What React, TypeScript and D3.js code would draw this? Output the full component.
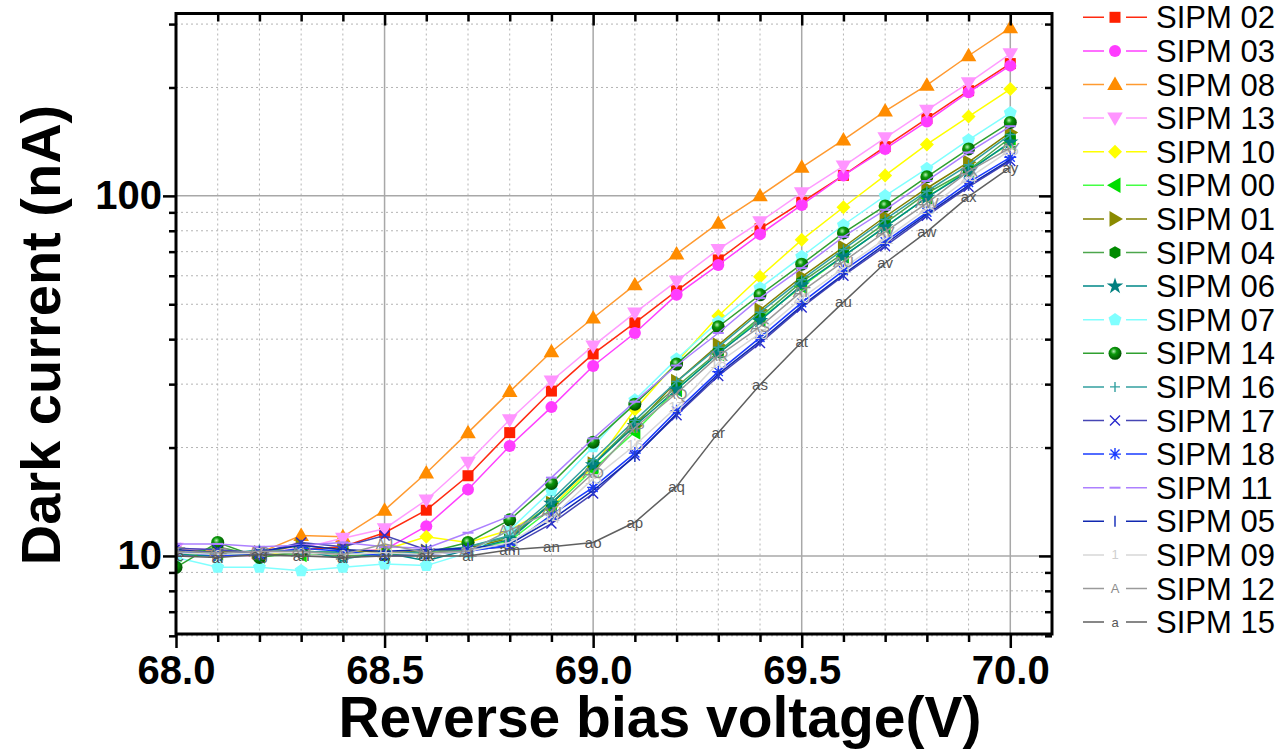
import { useEffect, useRef } from "react"
import * as d3 from "d3"

// Reverse bias voltage (V)
const voltage = [68.0, 68.1, 68.2, 68.3, 68.4, 68.5, 68.6, 68.7, 68.8, 68.9, 69.0, 69.1, 69.2, 69.3, 69.4, 69.5, 69.6, 69.7, 69.8, 69.9, 70.0]

// Dark current (nA) per SiPM
const sipm02 = [10.2, 10.3, 10.1, 10.4, 10.6, 11.6, 13.4, 16.7, 22.0, 28.7, 36.4, 44.4, 54.5, 66.4, 81, 96, 114, 137, 164, 196, 233]
const sipm03 = [10.0, 10.1, 10.0, 10.2, 10.3, 10.4, 12.1, 15.3, 20.2, 25.9, 33.7, 41.6, 53.1, 64.3, 78.3, 94.4, 114, 135, 161, 194, 230]
const sipm08 = [10.4, 10.3, 10.2, 11.4, 11.3, 13.4, 17.0, 22.0, 28.6, 36.9, 45.8, 56.6, 69, 84, 100, 120, 143, 172, 203, 245, 293]
const sipm13 = [10.5, 10.4, 10.2, 10.5, 11.2, 11.9, 14.3, 18.2, 23.9, 30.6, 38.3, 47.3, 58, 71, 84.7, 102, 121, 145, 173, 206, 248]
const sipm10 = [10.1, 10.2, 10.1, 10.3, 10.2, 10.4, 11.3, 10.9, 11.8, 13.7, 17.7, 25.5, 34.5, 46.4, 59.6, 75.5, 93, 114, 139, 166, 198]
const sipm00 = [10.1, 10.2, 10.0, 10.1, 10.3, 10.0, 10.2, 10.4, 11.0, 13.5, 17.4, 22.1, 29.0, 36.5, 45.5, 56, 68, 82, 99, 118, 140]
const sipm01 = [10.2, 10.3, 10.2, 10.7, 10.4, 10.2, 10.3, 10.5, 11.2, 14.0, 18.0, 23.0, 30.5, 38.5, 48.2, 59.6, 72, 87.5, 105, 124, 150]
const sipm04 = [10.0, 10.6, 10.0, 10.2, 10.0, 10.1, 10.1, 10.6, 11.3, 14.0, 18.0, 23.4, 29.5, 36.9, 46, 57.7, 69.3, 84, 101.7, 118, 145]
const sipm06 = [10.1, 10.0, 10.2, 10.4, 9.8, 10.2, 9.7, 10.4, 11.1, 14.0, 17.9, 23.0, 29.0, 36.5, 45, 56.5, 68, 82, 99, 117, 141]
const sipm07 = [9.9, 9.3, 9.3, 9.1, 9.3, 9.5, 9.4, 10.2, 11.8, 15.2, 20.1, 27.1, 35.2, 44.7, 55.5, 67.8, 83, 100, 119, 143, 170]
const sipm14 = [9.3, 10.9, 9.9, 10.3, 10.2, 10.1, 10.2, 10.9, 12.6, 15.9, 20.7, 26.4, 34.1, 43.3, 53.1, 64.6, 78.9, 93.8, 113, 135, 160]
const sipm16 = [10.2, 10.1, 10.4, 10.3, 10.2, 10.1, 10.3, 10.6, 11.4, 14.3, 18.5, 23.8, 30.5, 38, 47.5, 58.5, 71, 86, 103, 122, 148]
const sipm17 = [10.5, 10.4, 10.2, 10.9, 10.6, 11.4, 10.4, 10.4, 10.6, 12.3, 14.9, 19.0, 24.6, 31.6, 39, 49, 60, 72.5, 88, 106, 125]
const sipm18 = [10.3, 10.0, 10.1, 10.5, 10.3, 10.0, 10.1, 10.3, 10.7, 13.0, 15.5, 19.3, 25.3, 32.5, 40.4, 50.5, 62, 74.6, 90, 109, 128]
const sipm11 = [10.8, 10.8, 10.6, 10.7, 10.9, 10.6, 10.5, 11.6, 12.9, 16.5, 21.2, 26.8, 33.8, 41.6, 52, 63, 77, 91.5, 110, 132, 156]
const sipm05 = [10.4, 10.2, 10.3, 10.7, 10.4, 10.3, 10.4, 10.5, 10.8, 12.6, 15.2, 18.9, 24.8, 32.0, 39.5, 49.5, 60.5, 73.5, 89, 107, 126]
const sipm09 = [10.2, 10.1, 10.2, 10.2, 10.1, 10.2, 10.1, 10.3, 10.9, 12.8, 16.4, 20.3, 25.9, 34.4, 41.5, 52, 63, 76, 92, 112, 134]
const sipm12 = [10.3, 10.2, 10.3, 10.3, 10.1, 10.8, 10.2, 10.3, 11.8, 13.3, 17.0, 22.7, 28.3, 35.9, 43.3, 54.3, 65.7, 79.4, 95.5, 117, 136]
const sipm15 = [10.0, 9.9, 10.1, 10.0, 9.9, 10.0, 10.0, 10.0, 10.4, 10.6, 10.9, 12.4, 15.6, 22.0, 29.9, 39.3, 50.7, 65.1, 79.4, 99.5, 120]

const series = [
  { name: "SIPM 02", values: sipm02 },
  { name: "SIPM 03", values: sipm03 },
  { name: "SIPM 08", values: sipm08 },
  { name: "SIPM 13", values: sipm13 },
  { name: "SIPM 10", values: sipm10 },
  { name: "SIPM 00", values: sipm00 },
  { name: "SIPM 01", values: sipm01 },
  { name: "SIPM 04", values: sipm04 },
  { name: "SIPM 06", values: sipm06 },
  { name: "SIPM 07", values: sipm07 },
  { name: "SIPM 14", values: sipm14 },
  { name: "SIPM 16", values: sipm16 },
  { name: "SIPM 17", values: sipm17 },
  { name: "SIPM 18", values: sipm18 },
  { name: "SIPM 11", values: sipm11 },
  { name: "SIPM 05", values: sipm05 },
  { name: "SIPM 09", values: sipm09 },
  { name: "SIPM 12", values: sipm12 },
  { name: "SIPM 15", values: sipm15 },
]

// look of each curve (line colour, marker colour, marker kind)
const looks = {
  "SIPM 02": { line: "#ff2a10", fill: "#ff2000", shape: "square" },
  "SIPM 03": { line: "#ff40ff", fill: "#ff3cff", shape: "circle" },
  "SIPM 08": { line: "#ff9a30", fill: "#ff8c00", shape: "triUp" },
  "SIPM 13": { line: "#ff9cff", fill: "#ff94ff", shape: "triDown" },
  "SIPM 10": { line: "#ffff00", fill: "#ffff00", shape: "diamond" },
  "SIPM 00": { line: "#44ff44", fill: "#00dd00", shape: "triLeft" },
  "SIPM 01": { line: "#808000", fill: "#8a8a00", shape: "triRight" },
  "SIPM 04": { line: "#4da64d", fill: "#008a00", shape: "hexagon" },
  "SIPM 06": { line: "#008888", fill: "#008080", shape: "star" },
  "SIPM 07": { line: "#80ffff", fill: "#80ffff", shape: "pentagon" },
  "SIPM 14": { line: "#30a030", fill: "#008000", shape: "sphere" },
  "SIPM 16": { line: "#33a0a0", fill: "#33a0a0", shape: "plus" },
  "SIPM 17": { line: "#4646b4", fill: "#2a2acc", shape: "cross" },
  "SIPM 18": { line: "#1a3cff", fill: "#1a3cff", shape: "asterisk" },
  "SIPM 11": { line: "#ad80ff", fill: "#ad80ff", shape: "dash" },
  "SIPM 05": { line: "#1028b0", fill: "#2a40c0", shape: "bar" },
  "SIPM 09": { line: "#d8d8d8", fill: "#cfcfcf", shape: "num" },
  "SIPM 12": { line: "#9a9a9a", fill: "#8c8c8c", shape: "upper" },
  "SIPM 15": { line: "#606060", fill: "#555555", shape: "lower" },
}

const xMajor = [68.0, 68.5, 69.0, 69.5, 70.0]
const yMajor = [10, 100]
const yMinor = [6, 7, 8, 9, 20, 30, 40, 50, 60, 70, 80, 90, 200, 300]
const letters = "abcdefghijklmnopqrstuvwxyz"

const FONT = "'Liberation Sans', Arial, Helvetica, sans-serif"

function polygon(n, r, rot) {
  const pts = d3.range(n).map(i => {
    const a = rot + (i * 2 * Math.PI) / n
    return [r * Math.cos(a), r * Math.sin(a)]
  })
  return "M" + pts.map(p => p.join(",")).join("L") + "Z"
}

function drawMarker(g, shape, color, i, legend) {
  const tri = d3.symbol(d3.symbolTriangle, 105)()
  if (shape === "square") g.append("rect").attr("x", -5.5).attr("y", -5.5).attr("width", 11).attr("height", 11).attr("fill", color)
  else if (shape === "circle") g.append("circle").attr("r", 6).attr("fill", color)
  else if (shape === "triUp") g.append("path").attr("d", tri).attr("transform", "translate(0,1)").attr("fill", color)
  else if (shape === "triDown") g.append("path").attr("d", tri).attr("transform", "rotate(180) translate(0,1)").attr("fill", color)
  else if (shape === "triLeft") g.append("path").attr("d", tri).attr("transform", "rotate(-90) translate(0,1)").attr("fill", color)
  else if (shape === "triRight") g.append("path").attr("d", tri).attr("transform", "rotate(90) translate(0,1)").attr("fill", color)
  else if (shape === "diamond") g.append("path").attr("d", "M0,-7L7,0L0,7L-7,0Z").attr("fill", color)
  else if (shape === "hexagon") g.append("path").attr("d", polygon(6, 6.3, Math.PI / 6)).attr("fill", color)
  else if (shape === "pentagon") g.append("path").attr("d", polygon(5, 6.8, -Math.PI / 2)).attr("fill", color)
  else if (shape === "star") g.append("path").attr("d", d3.symbol(d3.symbolStar, 85)()).attr("fill", color)
  else if (shape === "sphere") g.append("circle").attr("r", 6.5).attr("fill", "url(#sphere)")
  else if (shape === "plus") g.append("path").attr("d", "M-5,0H5M0,-5V5").attr("stroke", color).attr("stroke-width", 1.4)
  else if (shape === "cross") g.append("path").attr("d", "M-5,-5L5,5M-5,5L5,-5").attr("stroke", color).attr("stroke-width", 1.4)
  else if (shape === "asterisk") g.append("path").attr("d", "M-6,0H6M0,-6V6M-4.5,-4.5L4.5,4.5M-4.5,4.5L4.5,-4.5").attr("stroke", color).attr("stroke-width", 1.4)
  else if (shape === "dash") g.append("path").attr("d", "M-5.5,0H5.5").attr("stroke", color).attr("stroke-width", 2)
  else if (shape === "bar") g.append("path").attr("d", "M0,-5.5V5.5").attr("stroke", color).attr("stroke-width", 1.6)
  else {
    let label = ""
    if (shape === "num") label = legend ? "1" : String(i + 5)
    if (shape === "upper") label = legend ? "A" : "A" + letters[i + 4].toUpperCase()
    if (shape === "lower") label = legend ? "a" : "a" + letters[i + 4]
    g.append("text")
      .attr("text-anchor", "middle")
      .attr("dy", "0.35em")
      .attr("font-family", FONT)
      .attr("font-size", legend ? 13 : 15)
      .attr("fill", color)
      .text(label)
  }
}

function App() {
  const ref = useRef(null)

  useEffect(() => {
    const svg = d3.select(ref.current)
    svg.selectAll("*").remove()

    const left = 176, right = 1052, top = 13.5, bottom = 634
    const x = d3.scaleLinear().domain([68.0, 70.1]).range([left, right])
    const y = d3.scaleLog().domain([6.07, 321]).range([bottom, top])

    const defs = svg.append("defs")
    const grad = defs.append("radialGradient").attr("id", "sphere").attr("cx", "40%").attr("cy", "35%").attr("r", "65%")
    grad.append("stop").attr("offset", "0%").attr("stop-color", "#b8f0b8")
    grad.append("stop").attr("offset", "35%").attr("stop-color", "#0c9a0c")
    grad.append("stop").attr("offset", "100%").attr("stop-color", "#005000")
    defs.append("clipPath").attr("id", "plotClip").append("rect")
      .attr("x", left).attr("y", top).attr("width", right - left).attr("height", bottom - top)

    // Grid
    const grid = svg.append("g")
    const xGrid = d3.range(1, 21).map(i => 68 + i / 10)
    grid.selectAll(".vx")
      .data(xGrid)
      .enter()
      .append("line")
      .attr("x1", d => x(d)).attr("x2", d => x(d))
      .attr("y1", top).attr("y2", bottom)
      .attr("stroke", (d, i) => ((i + 1) % 5 === 0 ? "#a8a8a8" : "#b4b4b4"))
      .attr("stroke-width", (d, i) => ((i + 1) % 5 === 0 ? 1.5 : 1))
      .attr("stroke-dasharray", (d, i) => ((i + 1) % 5 === 0 ? null : "2,3"))
    grid.selectAll(".hy")
      .data(yMinor)
      .enter()
      .append("line")
      .attr("x1", left).attr("x2", right)
      .attr("y1", d => y(d)).attr("y2", d => y(d))
      .attr("stroke", "#b4b4b4")
      .attr("stroke-dasharray", "2,3")
    grid.selectAll(".hyM")
      .data(yMajor)
      .enter()
      .append("line")
      .attr("x1", left).attr("x2", right)
      .attr("y1", d => y(d)).attr("y2", d => y(d))
      .attr("stroke", "#a8a8a8")
      .attr("stroke-width", 1.5)

    // Curves
    const plot = svg.append("g").attr("clip-path", "url(#plotClip)")
    const line = d3.line().x((d, i) => x(voltage[i])).y(d => y(d))
    for (const s of series) {
      const look = looks[s.name]
      plot.append("path")
        .attr("d", line(s.values))
        .attr("fill", "none")
        .attr("stroke", look.line)
        .attr("stroke-width", 1.5)
      s.values.forEach((v, i) => {
        const g = plot.append("g").attr("transform", `translate(${x(voltage[i])},${y(v)})`)
        drawMarker(g, look.shape, look.fill, i, false)
      })
    }

    // Frame
    svg.append("rect")
      .attr("x", left).attr("y", top)
      .attr("width", right - left).attr("height", bottom - top)
      .attr("fill", "none").attr("stroke", "#000").attr("stroke-width", 3)

    const styleAxis = (g) => {
      g.select(".domain").remove()
      g.selectAll("line").attr("stroke", "#000").attr("stroke-width", 2.5)
      g.selectAll("text").attr("font-family", FONT).attr("font-weight", "bold").attr("font-size", 40).attr("fill", "#000")
    }

    const xMinorTicks = xGrid.filter((d, i) => (i + 1) % 5 !== 0)

    // Bottom axis
    svg.append("g").attr("transform", `translate(0,${bottom})`)
      .call(d3.axisBottom(x).tickValues(xMajor).tickFormat(d3.format(".1f")).tickSize(14).tickPadding(8))
      .call(styleAxis)
    svg.append("g").attr("transform", `translate(0,${bottom})`)
      .call(d3.axisBottom(x).tickValues(xMinorTicks).tickFormat(() => "").tickSize(8))
      .call(styleAxis)
    // Top axis (inward)
    svg.append("g").attr("transform", `translate(0,${top})`)
      .call(d3.axisBottom(x).tickValues(xMajor.slice(1)).tickFormat(() => "").tickSize(12))
      .call(styleAxis)
    svg.append("g").attr("transform", `translate(0,${top})`)
      .call(d3.axisBottom(x).tickValues(xMinorTicks).tickFormat(() => "").tickSize(8))
      .call(styleAxis)

    // Left axis
    svg.append("g").attr("transform", `translate(${left},0)`)
      .call(d3.axisLeft(y).tickValues(yMajor).tickFormat(d3.format("d")).tickSize(13).tickPadding(1))
      .call(styleAxis)
    svg.append("g").attr("transform", `translate(${left},0)`)
      .call(d3.axisLeft(y).tickValues(yMinor).tickFormat(() => "").tickSize(7))
      .call(styleAxis)
    // Right axis (inward)
    svg.append("g").attr("transform", `translate(${right},0)`)
      .call(d3.axisLeft(y).tickValues(yMajor).tickFormat(() => "").tickSize(13))
      .call(styleAxis)
    svg.append("g").attr("transform", `translate(${right},0)`)
      .call(d3.axisLeft(y).tickValues(yMinor).tickFormat(() => "").tickSize(7))
      .call(styleAxis)

    // Axis titles
    svg.append("text")
      .attr("x", 660).attr("y", 737)
      .attr("text-anchor", "middle")
      .attr("font-family", FONT).attr("font-weight", "bold").attr("font-size", 57)
      .text("Reverse bias voltage(V)")
    svg.append("text")
      .attr("transform", "translate(60,335) rotate(-90)")
      .attr("text-anchor", "middle")
      .attr("font-family", FONT).attr("font-weight", "bold").attr("font-size", 56)
      .text("Dark current (nA)")

    // Legend
    const legend = svg.append("g")
    const items = legend.selectAll(".legend-item")
      .data(series)
      .enter()
      .append("g")
      .attr("class", "legend-item")
      .attr("transform", (d, i) => `translate(0, ${17.3 + i * 33.6})`)
    items.append("path")
      .attr("d", "M1083,0H1104M1126,0H1147")
      .attr("stroke", d => looks[d.name].line)
      .attr("stroke-width", 1.5)
    items.each(function (d) {
      const g = d3.select(this).append("g").attr("transform", "translate(1115,0)")
      drawMarker(g, looks[d.name].shape, looks[d.name].fill, 0, true)
    })
    items.append("text")
      .attr("x", 1156)
      .attr("dy", "0.36em")
      .attr("font-family", FONT)
      .attr("font-size", 31)
      .attr("fill", "#000")
      .text(d => d.name)
  }, [])

  return (
    <div style={{ position: "absolute", left: 0, top: 0 }}>
      <svg ref={ref} width="1286" height="750" style={{ display: "block", background: "#fff" }}></svg>
    </div>
  )
}

export default App
